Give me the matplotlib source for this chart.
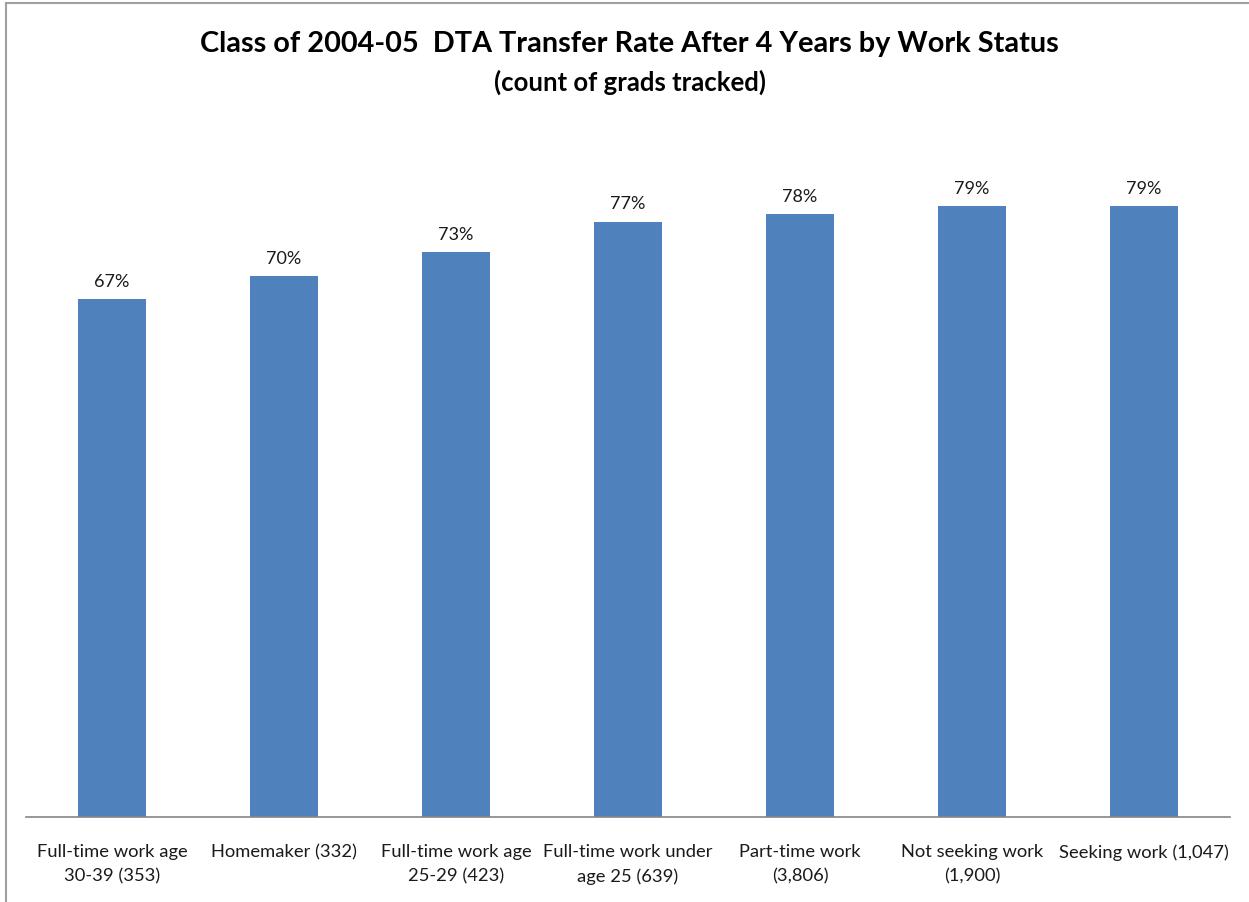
import matplotlib
matplotlib.use("Agg")
import matplotlib.pyplot as plt
import matplotlib.patches as patches

# data
categories = [
    "Full-time work age\n30-39 (353)",
    "Homemaker (332)",
    "Full-time work age\n25-29 (423)",
    "Full-time work under\nage 25 (639)",
    "Part-time work\n(3,806)",
    "Not seeking work\n(1,900)",
    "Seeking work (1,047)",
]
rates = [0.67, 0.70, 0.73, 0.77, 0.78, 0.79, 0.79]

plt.rcParams['font.family'] = ['Lato', 'DejaVu Sans']

fig = plt.figure(figsize=(12.49, 9.03), dpi=100)
ax = fig.add_axes([26 / 1249, 1 - 818 / 903, 1204 / 1249, 696 / 903])

x = range(len(categories))
bars = ax.bar(x, rates, width=0.4, color="#4F81BD", zorder=2)

for b, r in zip(bars, rates):
    ax.text(b.get_x() + b.get_width() / 2, r + 0.013, f"{r:.0%}",
            ha='center', va='bottom', fontsize=13, color='#1A1A1A')

ax.set_xlim(-0.5, len(categories) - 0.5)
ax.set_ylim(0, 0.9)
ax.set_yticks([])
ax.set_xticks(list(x))
ax.set_xticklabels(categories, fontsize=13.2, color='#1A1A1A', linespacing=1.6)
ax.tick_params(axis='x', length=0, pad=19)
for side in ['top', 'right', 'left']:
    ax.spines[side].set_visible(False)
ax.spines['bottom'].set_color('#868686')
ax.spines['bottom'].set_linewidth(1.2)

# titles
fig.text(629 / 1249, 1 - 44 / 903,
         "Class of 2004-05  DTA Transfer Rate After 4 Years by Work Status",
         ha='center', va='center', fontsize=20.8, fontweight='bold', color='black')
fig.text(630 / 1249, 1 - 82 / 903, "(count of grads tracked)",
         ha='center', va='center', fontsize=18.5, fontweight='bold', color='black')

# outer chart frame (only top and left edges are visible in the crop)
frame = patches.Rectangle((6 / 1249, -0.1), 1.2, 1.1 - 4 / 903,
                          transform=fig.transFigure, fill=False,
                          edgecolor='#A0A0A0', linewidth=1.5)
fig.patches.append(frame)

fig.savefig("out.png", dpi=100)
